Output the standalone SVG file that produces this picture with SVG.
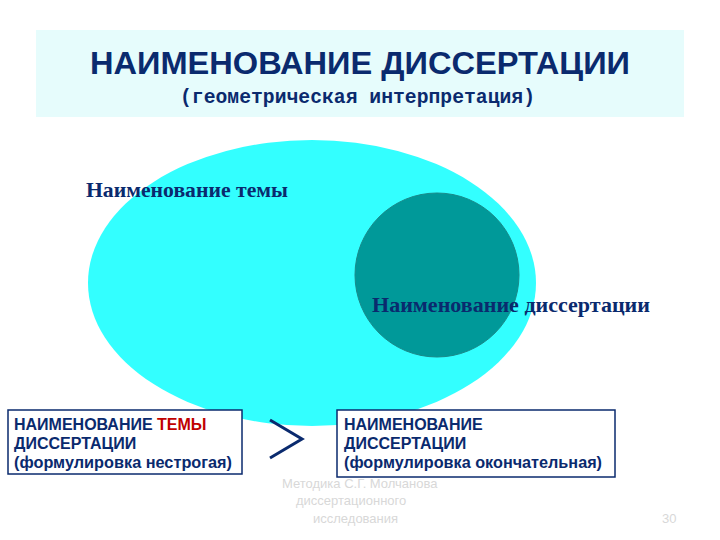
<svg xmlns="http://www.w3.org/2000/svg" width="720" height="540" viewBox="0 0 720 540">
<style>
.t{font-family:"Liberation Sans",Arial,sans-serif;font-weight:bold;fill:#0a2a6e}
.b{font-family:"Liberation Sans",Arial,sans-serif;font-weight:bold;font-size:16px;fill:#0a2a6e}
.s{font-family:"Liberation Serif","Times New Roman",serif;font-weight:bold;font-size:21.5px;fill:#0a2a6e}
.f{font-family:"Liberation Sans",Arial,sans-serif;font-size:13px;fill:#d8d8d8}
.box{fill:#fff;stroke:#0a2a6e;stroke-width:1.5}
</style>
<rect width="720" height="540" fill="#fff"/>
<g id="title">
<rect x="36" y="30" width="648" height="87" fill="#e6fcfc"/>
<text class="t" x="90" y="74" font-size="31" textLength="540" lengthAdjust="spacingAndGlyphs">НАИМЕНОВАНИЕ ДИССЕРТАЦИИ</text>
<text class="t" x="180" y="103" font-size="19.5" textLength="355" lengthAdjust="spacingAndGlyphs" style="font-family:'Liberation Mono',monospace">(геометрическая интерпретация)</text>
</g>
<g id="topic">
<ellipse cx="312" cy="283" rx="224" ry="143" fill="#33ffff"/>
<text class="s" x="86" y="197" textLength="202" lengthAdjust="spacingAndGlyphs">Наименование темы</text>
</g>
<g id="dissertation">
<circle cx="437" cy="275" r="82" fill="#009999" stroke="#1a8a8a"/>
<text class="s" x="372" y="312" textLength="278" lengthAdjust="spacingAndGlyphs">Наименование диссертации</text>
</g>
<g id="box-left">
<rect class="box" x="8" y="410" width="234" height="64"/>
<text class="b" x="14" y="430">НАИМЕНОВАНИЕ <tspan fill="#c00000">ТЕМЫ</tspan></text>
<text class="b" x="14" y="449">ДИССЕРТАЦИИ</text>
<text class="b" x="14" y="468" textLength="218" lengthAdjust="spacingAndGlyphs">(формулировка нестрогая)</text>
</g>
<g id="box-right">
<rect class="box" x="337" y="410" width="278" height="67"/>
<text class="b" x="344" y="430">НАИМЕНОВАНИЕ</text>
<text class="b" x="344" y="449">ДИССЕРТАЦИИ</text>
<text class="b" x="344" y="468" textLength="258" lengthAdjust="spacingAndGlyphs">(формулировка окончательная)</text>
</g>
<g id="connectors">
<polyline points="270,420 302,439 270,458" fill="none" stroke="#0a2a6e" stroke-width="3"/>
</g>
<g id="footer">
<text class="f" x="282" y="488">Методика С.Г. Молчанова</text>
<text class="f" x="296" y="505">диссертационного</text>
<text class="f" x="313" y="523">исследования</text>
<text class="f" x="662" y="523">30</text>
</g>
</svg>
